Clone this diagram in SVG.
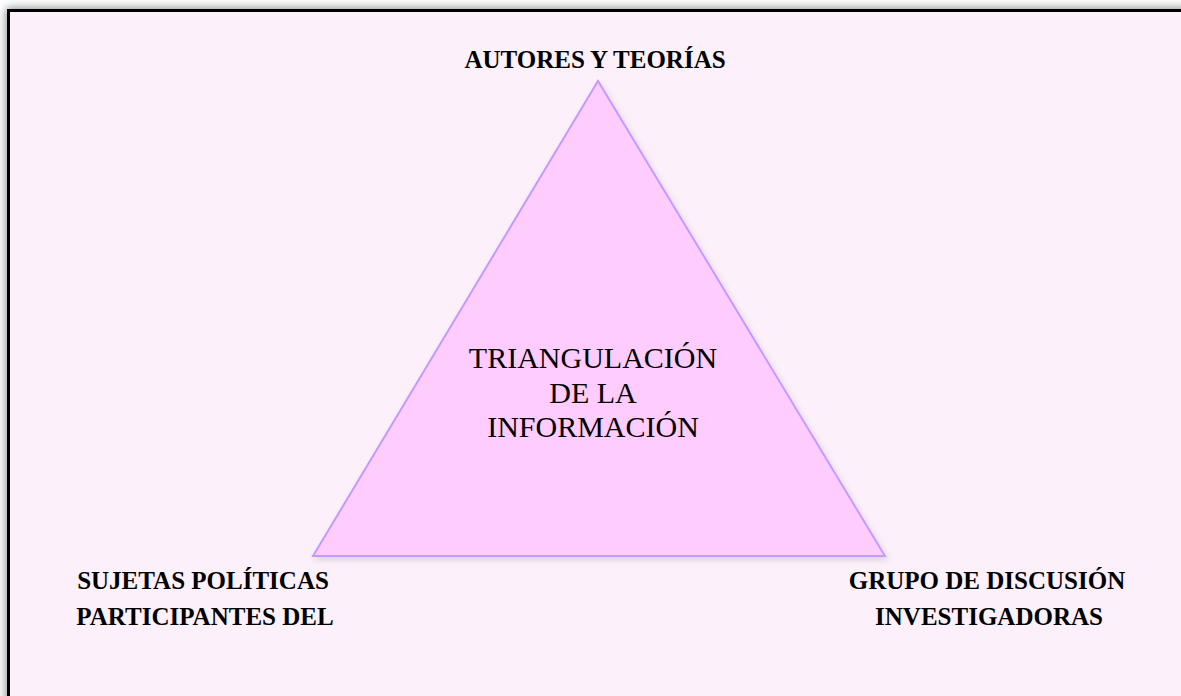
<svg xmlns="http://www.w3.org/2000/svg" width="1181" height="696" viewBox="0 0 1181 696">
  <defs>
    <filter id="frameShadow" x="-10%" y="-10%" width="120%" height="120%">
      <feGaussianBlur stdDeviation="5"/>
    </filter>
    <filter id="triShadow" x="-10%" y="-10%" width="120%" height="120%">
      <feDropShadow dx="2" dy="3" stdDeviation="3" flood-color="#000" flood-opacity="0.12"/>
    </filter>
    <style>
      .lbl { font-family: "Liberation Serif", "Times New Roman", serif; font-weight: bold; font-size: 25px; fill: #000; text-anchor: middle; }
      .ctr { font-family: "Liberation Serif", "Times New Roman", serif; font-size: 30px; fill: #000; text-anchor: middle; }
    </style>
  </defs>
  <rect x="0" y="0" width="1181" height="696" fill="#ffffff"/>
  <rect x="6" y="8" width="1200" height="720" fill="#8a8a8a" filter="url(#frameShadow)"/>
  <rect x="8.5" y="10.5" width="1200" height="720" fill="#FCF0FA" stroke="#000" stroke-width="3"/>

  <g id="triangle">
    <polygon points="598,81 313,556 885,556" fill="#FFCCFF" stroke="#C39BFF" stroke-width="2" filter="url(#triShadow)"/>
    <text class="ctr" x="593" y="368">TRIANGULACIÓN</text>
    <text class="ctr" x="593" y="403">DE LA</text>
    <text class="ctr" x="593" y="437">INFORMACIÓN</text>
  </g>

  <g id="node-top">
    <text class="lbl" x="595" y="68">AUTORES Y TEORÍAS</text>
  </g>
  <g id="node-left">
    <text class="lbl" x="203" y="589">SUJETAS POLÍTICAS</text>
    <text class="lbl" x="205" y="625">PARTICIPANTES DEL</text>
  </g>
  <g id="node-right">
    <text class="lbl" x="987" y="589">GRUPO DE DISCUSIÓN</text>
    <text class="lbl" x="989" y="625">INVESTIGADORAS</text>
  </g>
  <g id="connectors"></g>
</svg>
